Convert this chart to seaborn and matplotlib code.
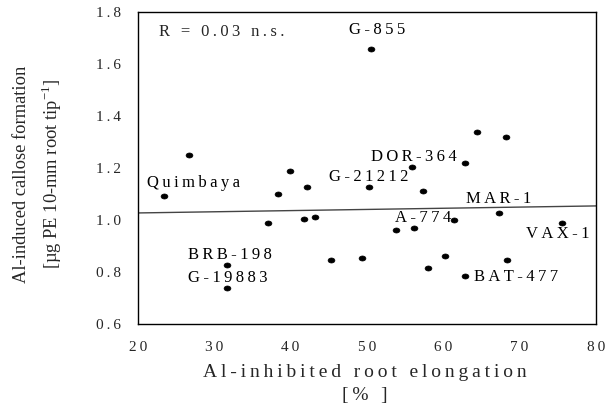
import numpy as np
import pandas as pd
import matplotlib
matplotlib.use("Agg")
import matplotlib.pyplot as plt
import seaborn as sns
from matplotlib.path import Path
from matplotlib.transforms import Affine2D

# ---- data ----
x_vals = [23.4, 26.7, 38.3, 39.9, 42.2, 50.5, 37.0, 41.8, 43.2, 45.3, 31.7, 31.7,
          64.4, 68.2, 62.9, 55.9, 50.3, 57.4, 67.3, 61.4, 75.6, 53.8, 56.2, 49.4,
          60.2, 58.0, 68.4, 62.9]
y_vals = [1.092, 1.250, 1.100, 1.188, 1.127, 1.658, 0.988, 1.004, 1.012, 0.846, 0.827, 0.738,
          1.338, 1.319, 1.219, 1.204, 1.127, 1.112, 1.027, 1.000, 0.990, 0.962, 0.969, 0.854,
          0.862, 0.815, 0.846, 0.785]

label_names = ["Quimbaya", "G-855", "G-21212", "DOR-364", "MAR-1", "A-774",
               "VAX-1", "BAT-477", "BRB-198", "G-19883"]
label_x = [21.2, 47.7, 45.0, 50.5, 63.0, 53.7, 70.9, 64.0, 26.5, 26.5]
label_y = [1.142, 1.731, 1.165, 1.242, 1.081, 1.008, 0.946, 0.781, 0.865, 0.777]

trend_x = [20, 80]
trend_y = [1.027, 1.054]

x_ticks = [20, 30, 40, 50, 60, 70, 80]
y_ticks = [0.6, 0.8, 1.0, 1.2, 1.4, 1.6, 1.8]

stat_text = "R = 0.03 n.s."

# ---- style ----
sns.set_theme(style="white")
plt.rcParams['font.family'] = ['Liberation Serif', 'DejaVu Serif']
plt.rcParams['mathtext.fontset'] = 'custom'
plt.rcParams['mathtext.rm'] = 'Liberation Serif'

SP = "\u2009"
def spaced(s):
    return SP.join(list(s))

df = pd.DataFrame({"x": x_vals, "y": y_vals})

fig = plt.figure(figsize=(6.05, 4.11), dpi=100)
ax = fig.add_axes([0.228, 0.2117, 0.757, 0.7593])

ellipse = Path.unit_circle().transformed(Affine2D().scale(1.35, 1.0))
sns.scatterplot(data=df, x="x", y="y", ax=ax, marker=ellipse, s=24,
                color="black", edgecolor="black", linewidth=0.5, zorder=3)
sns.lineplot(x=trend_x, y=trend_y, ax=ax, color="#444444", linewidth=1.0, zorder=2)

ax.set_xlim(20, 80)
ax.set_ylim(0.6, 1.8)
ax.set_xticks(x_ticks)
ax.set_yticks(y_ticks)
ax.set_xticklabels([spaced(str(t)) for t in x_ticks], fontsize=11)
ax.set_yticklabels([spaced(f"{t:.1f}") for t in y_ticks], fontsize=11)
ax.tick_params(axis='both', direction='out', length=4, width=1, color="#2a2aff")
ax.tick_params(axis='y', pad=8)
ax.tick_params(axis='x', pad=8)
for sp in ax.spines.values():
    sp.set_color("black")
    sp.set_linewidth(1.0)

ax.set_xlabel(spaced("Al-inhibited root elongation") + "\n" + spaced("[% ]"),
              fontsize=14, linespacing=1.4)
ax.xaxis.label.set_va("center")
ax.xaxis.set_label_coords(0.4956, -0.192)

ax.set_ylabel("Al-induced callose formation\n[µg PE 10-mm root tip$^{-1}$]",
              fontsize=13.3, linespacing=1.5)
ax.yaxis.label.set_va("center")
ax.yaxis.label.set_rotation_mode("default")
ax.yaxis.set_label_coords(-0.217, 0.48)

for name, lx, ly in zip(label_names, label_x, label_y):
    ax.text(lx, ly, spaced(name), fontsize=12, ha="left", va="center", color="black")

ax.text(22.75, 1.723, spaced(stat_text), fontsize=12, ha="left", va="center")

fig.savefig("out.png", dpi=100)
